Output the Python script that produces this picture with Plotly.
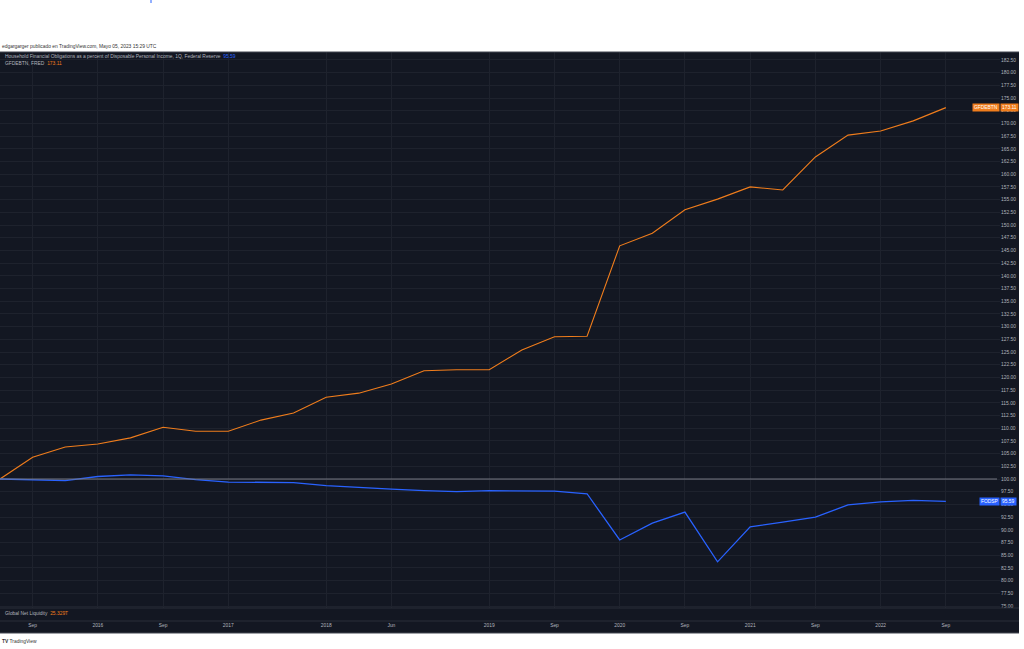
import plotly.graph_objects as go

# ---- data (bar index, values indexed to 100 at start) ----
bar_idx = list(range(30))
gfdebtn = [100.0, 104.3, 106.3, 106.9, 108.1, 110.2, 109.4, 109.4, 111.6, 113.0,
           116.1, 116.9, 118.7, 121.3, 121.5, 121.5, 125.4, 128.0, 128.1, 145.9,
           148.4, 153.0, 155.1, 157.5, 156.9, 163.4, 167.7, 168.5, 170.5, 173.11]
fodsp = [100.0, 99.8, 99.7, 100.5, 100.8, 100.6, 99.9, 99.4, 99.4, 99.3,
         98.7, 98.3, 98.0, 97.7, 97.5, 97.7, 97.7, 97.6, 97.1, 88.0,
         91.3, 93.5, 83.7, 90.6, 91.5, 92.5, 94.9, 95.5, 95.8, 95.59]
tick_idx = [1, 3, 5, 7, 10, 12, 15, 17, 19, 21, 23, 25, 27, 29]
tick_text = ["Sep", "2016", "Sep", "2017", "2018", "Jun", "2019", "Sep",
             "2020", "Sep", "2021", "Sep", "2022", "Sep"]
gnl_value = "25.329T"

W, H = 1024, 649
def py(p):
    return (H - p) / H
def px(p):
    return p / W

BG = "#131722"
GRID = "#1e222d"
ORANGE = "#f07d1c"
BLUE = "#2962ff"
TXT = "#b2b5be"
FONT = "Liberation Sans, Arial, sans-serif"
FS = 4.9

fig = go.Figure()
fig.add_trace(go.Scatter(x=bar_idx, y=gfdebtn, mode="lines",
                         line=dict(color=ORANGE, width=1.1), xaxis="x", yaxis="y",
                         showlegend=False, hoverinfo="skip"))
fig.add_trace(go.Scatter(x=bar_idx, y=fodsp, mode="lines",
                         line=dict(color=BLUE, width=1.3), xaxis="x", yaxis="y",
                         showlegend=False, hoverinfo="skip"))
# empty bottom pane trace
fig.add_trace(go.Scatter(x=[bar_idx[0]], y=[0], mode="lines", xaxis="x2", yaxis="y2",
                         showlegend=False, hoverinfo="skip", line=dict(color=BG)))

xr = [0, 30.66]
fig.update_layout(
    width=W, height=H,
    margin=dict(l=0, r=0, t=0, b=0, autoexpand=False),
    paper_bgcolor="white", plot_bgcolor=BG,
    font=dict(family=FONT, size=FS, color=TXT),
    xaxis=dict(domain=[0, px(1000)], range=xr, tickvals=tick_idx, ticktext=tick_text,
               showticklabels=False, showgrid=True, gridcolor=GRID, gridwidth=1,
               zeroline=False, showline=False, anchor="y", automargin=False),
    yaxis=dict(domain=[py(608), py(52)], range=[74.61, 184.06], side="right",
               dtick=2.5, tick0=0, tickformat=".2f", showgrid=True, gridcolor=GRID,
               zeroline=False, showline=False, ticks="", anchor="x", automargin=False,
               tickfont=dict(size=FS, color=TXT)),
    xaxis2=dict(domain=[0, px(1000)], range=xr, tickvals=tick_idx, ticktext=tick_text,
                showticklabels=True, showgrid=False, zeroline=False, showline=False,
                ticks="", anchor="y2", automargin=False, tickfont=dict(size=FS, color=TXT)),
    yaxis2=dict(domain=[py(621), py(608)], range=[0, 1], visible=False, anchor="x2",
                showgrid=False, automargin=False),
)

shapes = [
    # dark chart container
    dict(type="rect", xref="paper", yref="paper", x0=0, x1=px(1019), y0=py(633), y1=py(52),
         fillcolor=BG, line=dict(width=0), layer="below"),
    dict(type="line", xref="paper", yref="paper", x0=0, x1=px(1019), y0=py(52), y1=py(52),
         line=dict(color="#434651", width=1)),
    # pane separators
    dict(type="line", xref="paper", yref="paper", x0=0, x1=px(1019), y0=py(608), y1=py(608),
         line=dict(color="#2a2e39", width=1)),
    dict(type="line", xref="paper", yref="paper", x0=0, x1=px(1019), y0=py(621), y1=py(621),
         line=dict(color="#2a2e39", width=1)),
    dict(type="line", xref="paper", yref="paper", x0=0, x1=px(1019), y0=py(633), y1=py(633),
         line=dict(color="#434651", width=1)),
    # 100 baseline
    dict(type="line", xref="paper", yref="y", x0=0, x1=px(997), y0=100, y1=100,
         line=dict(color="#787b86", width=1)),
    # small blue mark at top
    dict(type="line", xref="paper", yref="paper", x0=px(151), x1=px(151), y0=py(3), y1=py(0),
         line=dict(color="#2962ff", width=1)),
]
fig.update_layout(shapes=shapes)

ann = [
    dict(text="edgargarger publicado en TradingView.com, Mayo 05, 2023 15:29 UTC",
         xref="paper", yref="paper", x=0, y=py(46), xanchor="left", yanchor="middle",
         showarrow=False, font=dict(size=FS, color="#333333")),
    dict(text="Household Financial Obligations as a percent of Disposable Personal Income, 1Q, Federal Reserve"
              f"  <span style='color:{BLUE}'>{fodsp[-1]:.2f}</span>",
         xref="paper", yref="paper", x=px(3), y=py(57), xanchor="left", yanchor="middle",
         showarrow=False, font=dict(size=FS, color=TXT)),
    dict(text=f"GFDEBTN, FRED  <span style='color:{ORANGE}'>{gfdebtn[-1]:.2f}</span>",
         xref="paper", yref="paper", x=px(3), y=py(64), xanchor="left", yanchor="middle",
         showarrow=False, font=dict(size=FS, color=TXT)),
    dict(text=f"Global Net Liquidity  <span style='color:{ORANGE}'>{gnl_value}</span>",
         xref="paper", yref="paper", x=px(3), y=py(613), xanchor="left", yanchor="middle",
         showarrow=False, font=dict(size=FS, color=TXT)),
    # price labels
    dict(text="GFDEBTN", xref="paper", yref="y", x=px(1000), y=gfdebtn[-1],
         xanchor="right", yanchor="middle", showarrow=False, bgcolor=ORANGE, borderpad=1,
         font=dict(size=FS, color="white")),
    dict(text=f"{gfdebtn[-1]:.2f}", xref="paper", yref="y", x=px(1000), y=gfdebtn[-1],
         xanchor="left", yanchor="middle", showarrow=False, bgcolor=ORANGE, borderpad=1,
         font=dict(size=FS, color="white")),
    dict(text="FODSP", xref="paper", yref="y", x=px(1000), y=fodsp[-1],
         xanchor="right", yanchor="middle", showarrow=False, bgcolor=BLUE, borderpad=1,
         font=dict(size=FS, color="white")),
    dict(text=f"{fodsp[-1]:.2f}", xref="paper", yref="y", x=px(1000), y=fodsp[-1],
         xanchor="left", yanchor="middle", showarrow=False, bgcolor=BLUE, borderpad=1,
         font=dict(size=FS, color="white")),
    dict(text="<b>TV</b> TradingView", xref="paper", yref="paper", x=0, y=py(641),
         xanchor="left", yanchor="middle", showarrow=False, font=dict(size=FS, color="#333333")),
]
fig.update_layout(annotations=ann)

fig.write_html("out.html", config={"displayModeBar": False},
               post_script="document.body.style.margin='0';document.body.style.overflow='hidden';")
